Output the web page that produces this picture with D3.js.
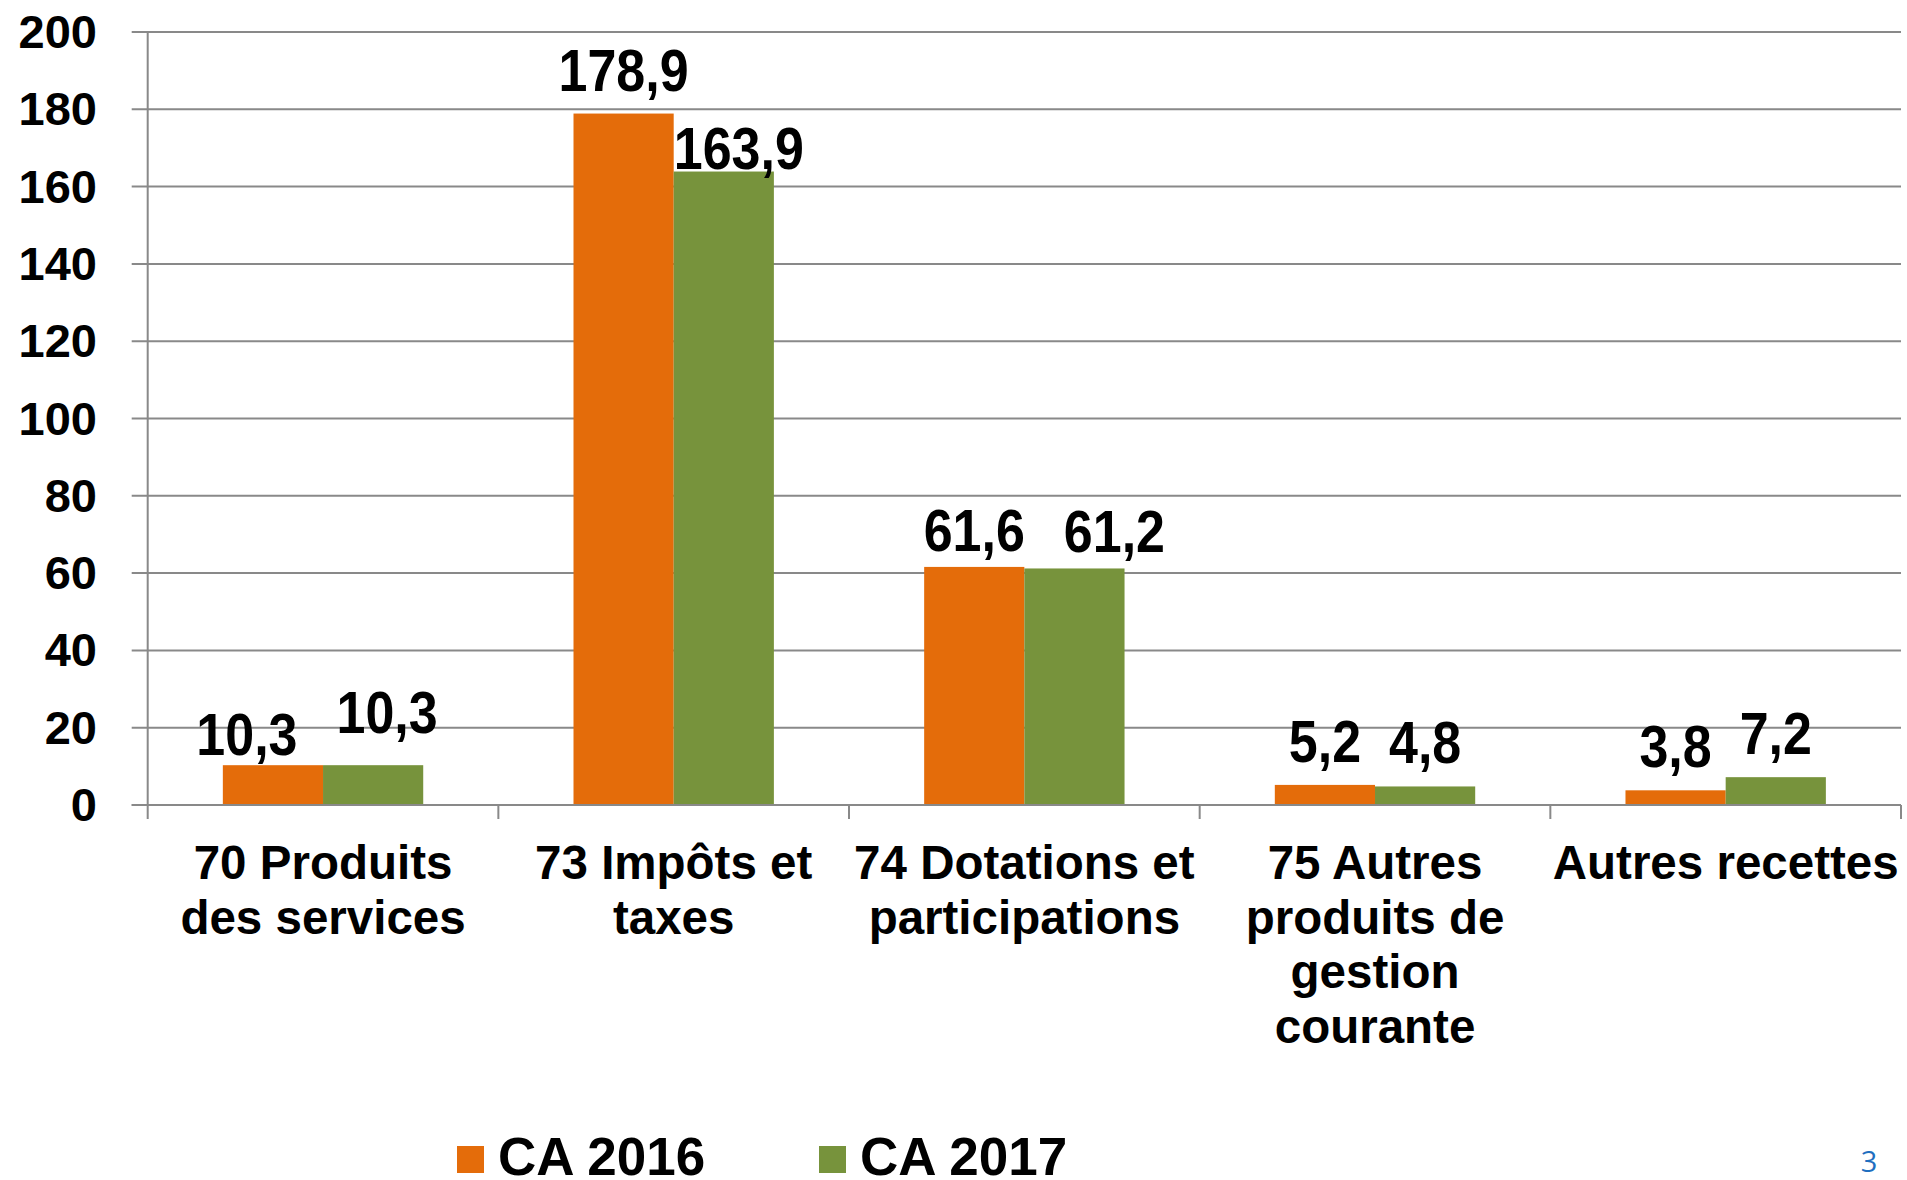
<!DOCTYPE html>
<html>
<head>
<meta charset="utf-8">
<script src="https://cdn.jsdelivr.net/npm/d3@7/dist/d3.min.js"></script>
<style>
  html, body { margin: 0; padding: 0; background: #ffffff; }
  svg { display: block; font-family: "Liberation Sans", Arial, sans-serif; }
</style>
</head>
<body>
<svg id="chart" width="1907" height="1180"></svg>
<script>
// ---- data ----
const categories = [
  "70 Produits\ndes services",
  "73 Impôts et\ntaxes",
  "74 Dotations et\nparticipations",
  "75 Autres\nproduits de\ngestion\ncourante",
  "Autres recettes"
];
const seriesNames = ["CA 2016", "CA 2017"];
const ca2016 = [10.3, 178.9, 61.6, 5.2, 3.8];
const ca2017 = [10.3, 163.9, 61.2, 4.8, 7.2];
const yTicks = [0, 20, 40, 60, 80, 100, 120, 140, 160, 180, 200];

// ---- layout / style ----
const colors = { "CA 2016": "#E46C0A", "CA 2017": "#77933C" };
const plot = { left: 147.7, right: 1901, top: 32, bottom: 805 };
// manual nudges of a few value labels, as placed in the original
const labelNudge = {
  "0-0": [-26, 13], "0-1": [14, -9],
  "1-1": [15, 20],
  "2-0": [0, 7], "2-1": [40, 7]
};

const svg = d3.select("#chart");
const fmt = v => String(v.toFixed(1)).replace(".", ",");

const y = d3.scaleLinear().domain([0, 200]).range([plot.bottom, plot.top]);
const x0 = d3.scaleBand().domain(categories).range([plot.left, plot.right]).paddingInner(0).paddingOuter(0);
const x1 = d3.scaleBand().domain(seriesNames).range([0, x0.bandwidth()]).paddingInner(0).paddingOuter(0.75);

const gridColor = "#898989";

// gridlines + y ticks
svg.append("g").selectAll("line").data(yTicks).join("line")
  .attr("x1", plot.left - 16).attr("x2", plot.right)
  .attr("y1", d => y(d)).attr("y2", d => y(d))
  .attr("stroke", gridColor).attr("stroke-width", 2);

// y axis labels
svg.append("g").selectAll("text").data(yTicks).join("text")
  .attr("x", 97).attr("y", d => y(d) + 16)
  .attr("text-anchor", "end")
  .attr("font-size", 47).attr("font-weight", "bold").attr("fill", "#000")
  .text(d => d);

// y axis line
svg.append("line")
  .attr("x1", plot.left).attr("x2", plot.left)
  .attr("y1", plot.top).attr("y2", plot.bottom + 14)
  .attr("stroke", gridColor).attr("stroke-width", 2);

// x tick marks at category boundaries
const bounds = categories.map(c => x0(c)).concat([plot.right]);
svg.append("g").selectAll("line").data(bounds.slice(1)).join("line")
  .attr("x1", d => d).attr("x2", d => d)
  .attr("y1", plot.bottom).attr("y2", plot.bottom + 14)
  .attr("stroke", gridColor).attr("stroke-width", 2);

// bars
const rows = categories.map((c, i) => ({ c, i, vals: [ca2016[i], ca2017[i]] }));
const groups = svg.append("g").selectAll("g").data(rows).join("g")
  .attr("transform", d => `translate(${x0(d.c)},0)`);

groups.selectAll("rect").data(d => d.vals.map((v, j) => ({ v, j, i: d.i, s: seriesNames[j] })))
  .join("rect")
  .attr("x", d => x1(d.s))
  .attr("width", x1.bandwidth())
  .attr("y", d => y(d.v))
  .attr("height", d => y(0) - y(d.v))
  .attr("fill", d => colors[d.s]);

// x axis baseline (over bars)
svg.append("line")
  .attr("x1", plot.left - 16).attr("x2", plot.right)
  .attr("y1", plot.bottom).attr("y2", plot.bottom)
  .attr("stroke", gridColor).attr("stroke-width", 2);

// value labels
groups.selectAll("g.lbl").data(d => d.vals.map((v, j) => ({ v, j, i: d.i, s: seriesNames[j] })))
  .join("g").attr("class", "lbl")
  .attr("transform", d => {
    const n = labelNudge[d.i + "-" + d.j] || [0, 0];
    const cx = x1(d.s) + x1.bandwidth() / 2 + n[0];
    const by = y(d.v) - 23 + n[1];
    return `translate(${cx},${by}) scale(1,1.15)`;
  })
  .append("text")
  .attr("text-anchor", "middle")
  .attr("font-size", 52).attr("font-weight", "bold").attr("fill", "#000")
  .text(d => fmt(d.v));

// category labels
const catG = svg.append("g").selectAll("text").data(categories).join("text")
  .attr("text-anchor", "middle")
  .attr("font-size", 47.5).attr("font-weight", "bold").attr("fill", "#000")
  .attr("transform", d => `translate(${x0(d) + x0.bandwidth() / 2},879)`);
catG.selectAll("tspan").data(d => d.split("\n")).join("tspan")
  .attr("x", 0).attr("y", (d, k) => k * 54.5)
  .text(d => d);

// legend
const legendX = [457, 819];
const leg = svg.append("g").selectAll("g").data(seriesNames).join("g")
  .attr("transform", (d, k) => `translate(${legendX[k]},0)`);
leg.append("rect")
  .attr("x", 0).attr("y", 1146).attr("width", 27).attr("height", 27)
  .attr("fill", d => colors[d]);
leg.append("text")
  .attr("x", 41).attr("y", 1175)
  .attr("font-size", 53).attr("font-weight", "bold").attr("fill", "#000")
  .text(d => d);

// page number
svg.append("text")
  .attr("x", 1869).attr("y", 1172).attr("text-anchor", "middle")
  .attr("font-family", "'Open Sans', 'Liberation Sans', sans-serif")
  .attr("font-size", 29).attr("fill", "#1F6FC0")
  .text("3");
</script>
</body>
</html>
